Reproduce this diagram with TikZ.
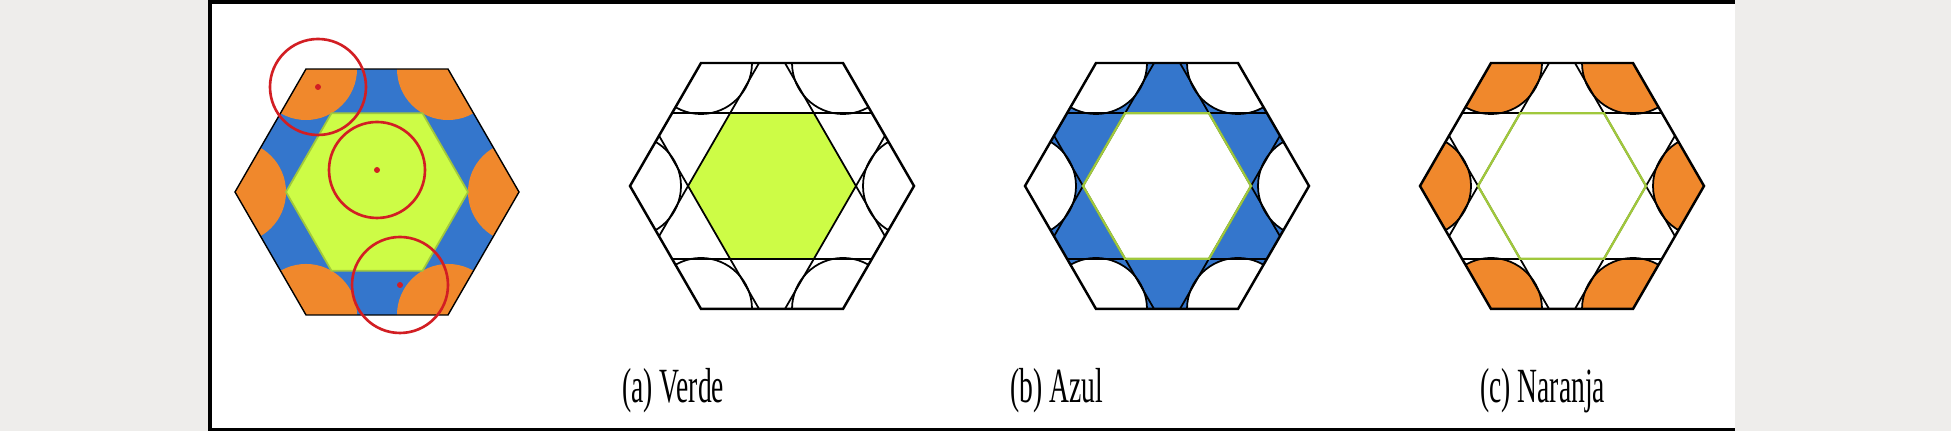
\documentclass[tikz,border=0pt]{standalone}
\usepackage{fontspec}
\setmainfont{Liberation Serif}
\newfontfamily\rotfont[FakeStretch=0.56]{Liberation Serif}
\definecolor{fondo}{RGB}{238,237,235}
\definecolor{verde}{RGB}{205,252,70}
\definecolor{verdeborde}{RGB}{160,200,60}
\definecolor{azul}{RGB}{52,118,204}
\definecolor{naranja}{RGB}{240,136,44}
\definecolor{rojo}{RGB}{210,30,35}
\newcommand{\hexagono}[1]{(0:#1)--(60:#1)--(120:#1)--(180:#1)--(240:#1)--(300:#1)--cycle}
\newcommand{\discos}{\foreach \k in {0,60,...,300}{(\k:142) circle[radius=51]}}
\newcommand{\trazos}{%
  \begin{scope}
    \clip \hexagono{142};
    \foreach \k in {0,60,...,300}{
      \draw[cuerda,rotate=\k] (-200,72.7) -- (200,72.7);
      \draw[cuerda] (\k:142) circle[radius=51];
    }
  \end{scope}}
\begin{document}
\begin{tikzpicture}[x=0.02cm,y=0.02cm,
    borde/.style={line width=1.4pt,line join=miter},
    cuerda/.style={line width=1pt},
    contorno/.style={draw=verdeborde,line width=1.3pt},
    circrojo/.style={draw=rojo,line width=1.5pt},
    rotulo/.style={anchor=base west,inner sep=0pt,font=\rotfont\fontsize{28}{30}\selectfont}]
  \useasboundingbox (0,0) rectangle (1951,431);
  % marco
  \fill[fondo] (0,0) rectangle (1951,431);
  \fill[white] (208,0) rectangle (1735,431);
  \fill (208,427) rectangle (1735,431);
  \fill (208,0) rectangle (212,431);
  \fill (208,0) rectangle (1735,3);
  \coordinate (P0) at (377,239);
  \coordinate (Pa) at (772,245);
  \coordinate (Pb) at (1167,245);
  \coordinate (Pc) at (1562,245);
  % celda completa
  \begin{scope}[shift={(P0)}]
    \fill[azul] \hexagono{142};
    \begin{scope}
      \clip \hexagono{142};
      \fill[naranja] \discos;
    \end{scope}
    \filldraw[fill=verde,draw=verdeborde,line width=1pt] \hexagono{91};
    \draw[line width=0.8pt] \hexagono{142};
    \foreach \cx/\cy in {-59/105,0/22,23/-93}{
      \draw[circrojo] (\cx,\cy) circle[radius=48];
      \fill[rojo] (\cx,\cy) circle[radius=3];
    }
  \end{scope}
  % (a)
  \begin{scope}[shift={(Pa)}]
    \fill[verde] \hexagono{84};
    \trazos
    \draw[borde] \hexagono{142};
  \end{scope}
  % (b)
  \begin{scope}[shift={(Pb)}]
    \fill[azul] \hexagono{142};
    \begin{scope}
      \clip \hexagono{142};
      \fill[white] \discos;
    \end{scope}
    \fill[white] \hexagono{84};
    \trazos
    \draw[contorno] \hexagono{84};
    \draw[borde] \hexagono{142};
  \end{scope}
  % (c)
  \begin{scope}[shift={(Pc)}]
    \begin{scope}
      \clip \hexagono{142};
      \fill[naranja] \discos;
    \end{scope}
    \trazos
    \draw[contorno] \hexagono{84};
    \draw[borde] \hexagono{142};
  \end{scope}
  \node[rotulo] (la) at (622,28) {(a) Verde};
  \node[rotulo] (lb) at (1010,28) {(b) Azul};
  \node[rotulo] (lc) at (1480,28) {(c) Naranja};
\end{tikzpicture}
\end{document}
